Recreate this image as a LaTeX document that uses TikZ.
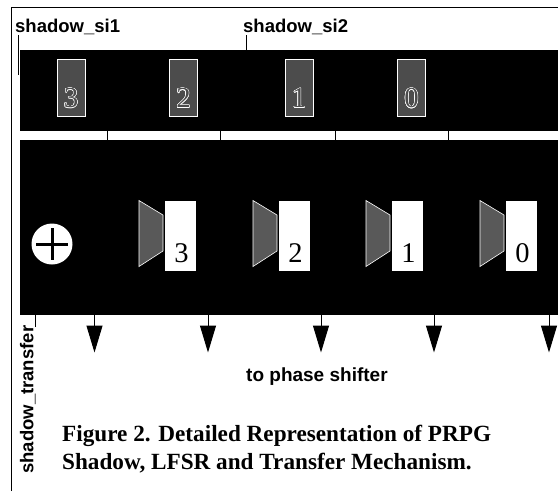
\documentclass[tikz,border=0pt]{standalone}
\usepackage{fontspec}
\usepackage{contour}
\setmainfont{Liberation Serif}
\setsansfont{Liberation Sans}
\usetikzlibrary{arrows.meta,positioning,calc}
\contourlength{0.5pt}
\tikzset{
  bank/.style={fill=black,draw=none,inner sep=0pt,anchor=north west},
  shadowcell/.style={fill=black!70,draw=white,line width=0.6pt,inner sep=0pt,minimum width=28pt,minimum height=57pt},
  shadowdigit/.style={inner sep=0pt,font=\fontsize{29}{29}\selectfont,text=black!70},
  lfsrcell/.style={fill=white,inner sep=0pt,minimum width=31pt,minimum height=70pt},
  lfsrdigit/.style={inner sep=0pt,font=\fontsize{28.5}{28.5}\selectfont},
  muxshape/.style={fill=black!65,draw=white,line width=0.6pt,line join=miter},
  siglabel/.style={font=\sffamily\bfseries\fontsize{18.5}{18.5}\selectfont,inner sep=0pt},
  wire/.style={line width=1pt},
  outwire/.style={line width=1pt,-{Triangle[length=27pt,width=16pt]}}
}
\begin{document}
\begin{tikzpicture}[x=1pt,y=-1pt]
  \useasboundingbox (0,0) rectangle (558,491);
  \draw[line width=1.2pt] (11.5,491) |- (558,7.5); % frame
  \node[bank,minimum width=538.5pt,minimum height=81pt] (shadowbank) at (19.5,50) {};
  \node[bank,minimum width=538.5pt,minimum height=175pt] (lfsrbank) at (19.5,140) {};
  % shadow register cells and LFSR stages
  \foreach \n/\sx/\mx in {3/71/139,2/183.5/253,1/299/366,0/411.5/480} {
    \node[shadowcell] (shadow\n) at (\sx,87.5) {};
    \node[shadowdigit] (shadowdigit\n) at (\sx,98.3) {\contour{white}{\n}};
    \draw[muxshape] (\mx,200.5) -- (\mx+24,215) -- (\mx+24,251) -- (\mx,266.5) -- cycle;
    \node[lfsrcell,anchor=west] (lfsr\n) at (\mx+26,236) {};
    \node[lfsrdigit] (lfsrdigit\n) at (\mx+42.5,253) {\n};
  }
  \node[circle,fill=white,minimum size=41pt,inner sep=0pt] (xorgate) at (52,244) {};
  \draw[line width=3pt] (xorgate.center) +(-16,0) -- +(16,0) (xorgate.center) +(0,-16) -- +(0,16);
  % links between the two banks
  \foreach \x in {107,220.5,335,448} {
    \coordinate (tick) at (\x,131);
    \draw[wire] (tick) -- (tick |- lfsrbank.north);
  }
  % outputs
  \foreach \x in {94.5,208,321,434,549} {
    \coordinate (outend) at (\x,352.5);
    \draw[outwire] (outend |- lfsrbank.south) -- (outend);
  }
  \node[siglabel,anchor=base west] (si1) at (15,32) {shadow\_si1};
  \node[siglabel,anchor=base west] (si2) at (243,32) {shadow\_si2};
  \node[siglabel,rotate=90,anchor=base west] (transfer) at (33.5,474) {shadow\_transfer};
  \coordinate (si1end) at (18,35);
  \coordinate (si2end) at (246,35);
  \coordinate (transferend) at (35,327);
  \draw[wire] (si1end) -- ++(0,40);
  \draw[wire] (si2end) -- (si2end |- shadowbank.north);
  \draw[wire] (transferend) -- (transferend |- lfsrbank.south);
  \node[siglabel,font=\sffamily\bfseries\fontsize{19}{19}\selectfont,anchor=base west] (tophase) at (246,381) {to phase shifter};
  \node[font=\bfseries\fontsize{23.2}{27.5}\selectfont,inner sep=0pt,anchor=base west,align=left] (caption) at (62,469)
    {Figure 2. Detailed Representation of PRPG\\Shadow, LFSR and Transfer Mechanism.};
\end{tikzpicture}
\end{document}
